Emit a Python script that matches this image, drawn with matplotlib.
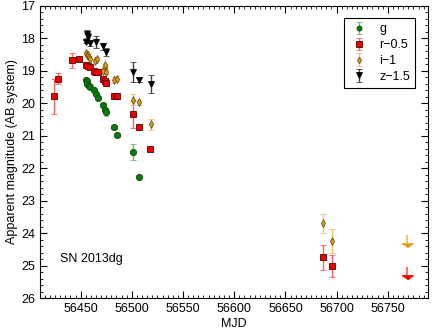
import matplotlib.pyplot as plt
from matplotlib.ticker import MultipleLocator

plt.rcParams['font.family'] = ['Liberation Sans', 'DejaVu Sans']

# g band
g_mjd = [56454.9, 56456.5, 56456.0, 56457.8, 56459.5, 56463.0, 56465.0, 56467.0,
         56472.2, 56473.8, 56475.1, 56482.6, 56485.9, 56501.2, 56507.0]
g_mag = [19.28, 19.31, 19.40, 19.47, 19.50, 19.59, 19.71, 19.83,
         20.05, 20.20, 20.28, 20.73, 20.98, 21.50, 22.26]
g_err = [0.04, 0.04, 0.04, 0.04, 0.04, 0.04, 0.04, 0.04,
         0.05, 0.05, 0.12, 0.05, 0.05, 0.25, 0.04]

# r band (shifted -0.5)
r_mjd = [56424.3, 56428.2, 56441.2, 56448.0, 56454.9, 56457.1, 56459.5, 56463.0,
         56464.7, 56467.0, 56472.2, 56474.2, 56475.1, 56482.6, 56485.9, 56500.9,
         56507.0, 56517.8, 56687.1, 56695.3]
r_mag = [19.79, 19.24, 18.68, 18.63, 18.82, 18.85, 18.87, 19.02,
         19.05, 19.05, 19.25, 19.31, 19.38, 19.76, 19.76, 20.34,
         20.74, 21.41, 24.75, 25.01]
r_err = [0.54, 0.16, 0.22, 0.04, 0.04, 0.05, 0.05, 0.12,
         0.05, 0.05, 0.06, 0.05, 0.05, 0.06, 0.05, 0.41,
         0.05, 0.05, 0.40, 0.35]

# i band (shifted -1)
i_mjd = [56455.0, 56456.0, 56457.0, 56458.0, 56459.0, 56464.4, 56466.3,
         56472.2, 56473.8, 56473.8, 56474.5, 56482.6, 56485.9, 56500.9,
         56507.0, 56519.2, 56687.1, 56695.3]
i_mag = [18.45, 18.52, 18.50, 18.58, 18.62, 18.70, 18.62,
         19.00, 18.91, 18.83, 19.05, 19.28, 19.24, 19.89,
         19.97, 20.65, 23.70, 24.24]
i_err = [0.05, 0.05, 0.05, 0.05, 0.05, 0.06, 0.05,
         0.06, 0.05, 0.05, 0.06, 0.08, 0.08, 0.17,
         0.07, 0.16, 0.29, 0.36]

# z band (shifted -1.5)
z_mjd = [56456.5, 56455.5, 56458.8, 56457.5, 56465.0, 56472.2, 56474.5,
         56500.9, 56507.0, 56519.2]
z_mag = [17.87, 18.10, 18.15, 17.95, 18.12, 18.25, 18.42,
         19.03, 19.28, 19.40]
z_err = [0.13, 0.05, 0.08, 0.12, 0.18, 0.12, 0.12,
         0.30, 0.07, 0.28]

# upper limits (i-1, r-0.5)
lim_mjd = [56768.7, 56768.7]
lim_mag = [24.35, 25.35]
lim_col = ['#e0a020', '#ee0000']
lim_shaft = ['#f0c878', '#ff7070']

fig = plt.figure(figsize=(4.36, 3.29), dpi=100)
ax = fig.add_axes([0.091, 0.094, 0.890, 0.888])

ax.errorbar(g_mjd, g_mag, yerr=g_err, fmt='o', ms=4.5, mfc='#0a7a0a', mec='#0a4a0a',
            mew=0.6, ecolor='#70b870', elinewidth=1, capsize=2, label='g')
ax.errorbar(r_mjd, r_mag, yerr=r_err, fmt='s', ms=4.8, mfc='#ee0000', mec='#550000',
            mew=0.6, ecolor='#ff6060', elinewidth=1, capsize=2, label='r\u22120.5')
ax.errorbar(i_mjd, i_mag, yerr=i_err, fmt='d', ms=4.2, mfc='#e0a020', mec='#705010',
            mew=0.6, ecolor='#f0c070', elinewidth=1, capsize=2, label='i\u22121')
ax.errorbar(z_mjd, z_mag, yerr=z_err, fmt='v', ms=4.8, mfc='black', mec='black',
            mew=0.6, ecolor='#404040', elinewidth=1, capsize=2, label='z\u22121.5')

for x, y, c, s in zip(lim_mjd, lim_mag, lim_col, lim_shaft):
    ax.vlines(x, y - 0.3, y, color=s, lw=1.5)
    ax.plot(x, y, marker=[(-1, 0.3), (1, 0.3), (0, -0.4)], ms=8, color=c, mec=c)

ax.text(56430, 24.9, 'SN 2013dg', fontsize=9)

ax.set_xlim(56410, 56789)
ax.set_ylim(26, 17)
ax.xaxis.set_major_locator(MultipleLocator(50))
ax.xaxis.set_minor_locator(MultipleLocator(5))
ax.yaxis.set_major_locator(MultipleLocator(1))
ax.yaxis.set_minor_locator(MultipleLocator(0.2))
ax.tick_params(which='both', direction='in', top=True, right=True, labelsize=9)
ax.tick_params(which='major', length=5)
ax.tick_params(which='minor', length=2.5)
ax.set_xlabel('MJD', fontsize=9, labelpad=2)
ax.set_ylabel('Apparent magnitude (AB system)', fontsize=9, labelpad=2)

leg = ax.legend(loc='upper right', fontsize=9, fancybox=False, framealpha=1,
                edgecolor='black', handlelength=1.6, labelspacing=0.3,
                borderaxespad=1.0, markerscale=0.8)
leg.get_frame().set_linewidth(0.8)

fig.savefig('out.png', dpi=100)
